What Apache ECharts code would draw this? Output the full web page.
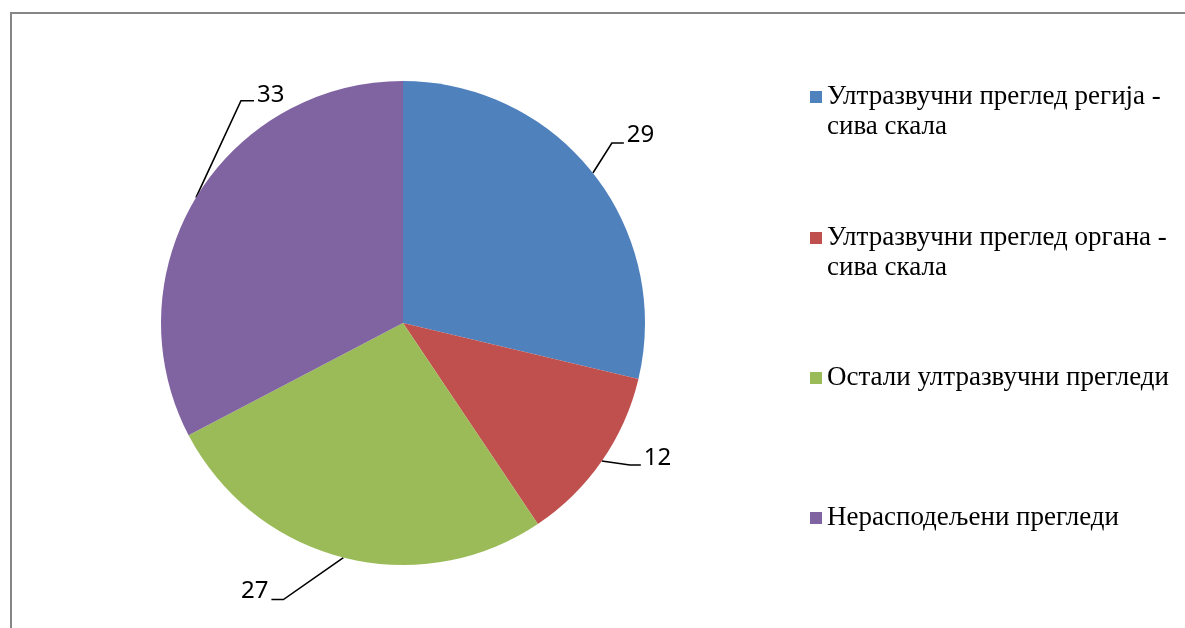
<!DOCTYPE html>
<html>
<head>
<meta charset="utf-8">
<script src="https://cdn.jsdelivr.net/npm/echarts@6/dist/echarts.min.js"></script>
<style>
  html, body { margin: 0; padding: 0; background: #fff; }
  #frame { position: absolute; left: 10px; top: 12px; width: 1300px; height: 800px;
           border-top: 2px solid #868686; border-left: 2px solid #868686; }
  #main { position: absolute; left: 0; top: 0; width: 1185px; height: 628px; }
</style>
</head>
<body>
<div id="frame"></div>
<div id="main"></div>
<script>
// категорије и вредности (у процентима)
var categories = [
    'Ултразвучни преглед регија - сива скала',
    'Ултразвучни преглед органа - сива скала',
    'Остали ултразвучни прегледи',
    'Нерасподељени прегледи'
];
var values = [29, 12, 27, 33];
var colors = ['#4F81BD', '#C0504D', '#9BBB59', '#8064A2'];

// облик водећих линија: [dx1, dy1, dx2, помак ознаке по y]
var leaderBends = [
    [19, -30, 12, -8],
    [28, 4, 11, -7],
    [-60, 42, -12, -8],
    [45, -97, 13, -6]
];
var legendTops = [52, 193, 363, 503];

var myChart = echarts.init(document.getElementById('main'));

var pieData = [];
for (var i = 0; i < categories.length; i++) {
    pieData.push({ name: categories[i], value: values[i], itemStyle: { color: colors[i] } });
}

var legends = [];
for (var j = 0; j < categories.length; j++) {
    legends.push({
        orient: 'vertical',
        left: 810,
        top: legendTops[j],
        padding: 0,
        itemWidth: 12,
        itemHeight: 12,
        icon: 'rect',
        selectedMode: false,
        data: [categories[j]],
        // прелом у два реда, први ред поравнат са квадратићем
        formatter: function (name) {
            return name.indexOf(' - ') >= 0 ? '\n' + name.replace(' - ', ' -\n') : name;
        },
        textStyle: {
            fontFamily: 'Liberation Serif',
            fontSize: 27,
            lineHeight: 30,
            color: '#000'
        }
    });
}

var option = {
    animation: false,
    legend: legends,
    series: [{
        type: 'pie',
        center: [403, 323],
        radius: 242,
        startAngle: 90,
        clockwise: true,
        data: pieData,
        label: {
            show: true,
            position: 'outside',
            formatter: '{c}',
            fontFamily: 'Noto Sans',
            fontSize: 24,
            color: '#000'
        },
        labelLine: {
            show: true,
            length: 20,
            length2: 10,
            lineStyle: { color: '#000', width: 1.6 }
        },
        labelLayout: function (params) {
            var b = leaderBends[params.dataIndex];
            var p0 = params.labelLinePoints[0];
            var p1 = [p0[0] + b[0], p0[1] + b[1]];
            var p2 = [p1[0] + b[2], p1[1]];
            var left = b[2] > 0;
            return {
                x: left ? p2[0] + 3 : p2[0] - 3,
                y: p2[1] + b[3],
                align: left ? 'left' : 'right',
                verticalAlign: 'middle',
                labelLinePoints: [p0, p1, p2]
            };
        },
        emphasis: { disabled: true }
    }]
};

myChart.setOption(option);
</script>
</body>
</html>
